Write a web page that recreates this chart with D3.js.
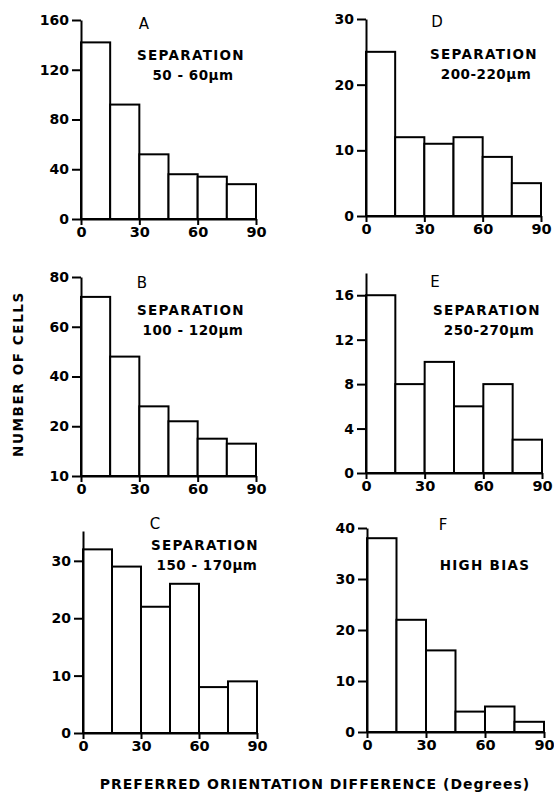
<!DOCTYPE html>
<html>
<head>
<meta charset="utf-8">
<script src="https://cdn.jsdelivr.net/npm/d3@7"></script>
<style>
body{margin:0;background:#fff;}
svg{display:block;}
.axis path,.axis line{stroke:#000;stroke-width:2;}
.axis text{font-family:"DejaVu Sans",sans-serif;font-weight:bold;font-size:14px;fill:#000;}
.bar{fill:#fff;stroke:#000;stroke-width:2;}
.lbl{font-family:"DejaVu Sans",sans-serif;fill:#000;}
</style>
</head>
<body>
<div id="plot"></div>
<script>
//orientation difference bins (degrees), each 15 wide
var BIN_STARTS = [0,15,30,45,60,75],
	BIN_WIDTH = 15,
	X_TICKS = [0,30,60,90];

//counts
var countsA = [142,92,52,36,34,28],
	countsB = [72,48,28,22,15,13],
	countsC = [32,29,22,26,8,9],
	countsD = [25,12,11,12,9,5],
	countsE = [16,8,10,6,8,3],
	countsF = [38,22,16,4,5,2];

var ticksA = [0,40,80,120,160],
	ticksB = [0,20,40,60,80],
	ticksC = [0,10,20,30],
	ticksD = [0,10,20,30],
	ticksE = [0,4,8,12,16],
	ticksF = [0,10,20,30,40];

//panel B's bottom tick is printed as "10" in the original
var tickLabelsB = ['10','20','40','60','80'];

var panelNames = ['A','B','C','D','E','F'],
	captionLine1 = ['SEPARATION','SEPARATION','SEPARATION','SEPARATION','SEPARATION','HIGH BIAS'],
	captionLine2 = ['50 - 60\u03bcm','100 - 120\u03bcm','150 - 170\u03bcm','200-220\u03bcm','250-270\u03bcm',''];

var W = 554, H = 799;
var svg = d3.select('#plot').append('svg')
	.attr('width',W).attr('height',H);

//layout of each panel: plot box in pixels, top of y domain
var panels = [
	{name:'A', counts:countsA, ticks:ticksA, yMax:160, l:81, r:256, b:219, t:20,
		nameXY:[144,24], capXY:[191,55]},
	{name:'B', counts:countsB, ticks:ticksB, labels:tickLabelsB, yMax:80, l:81, r:256, b:476, t:277,
		nameXY:[142,283], capXY:[191,310]},
	{name:'C', counts:countsC, ticks:ticksC, yMax:35.2, l:83, r:257, b:733, t:531,
		nameXY:[155,524], capXY:[205,545]},
	{name:'D', counts:countsD, ticks:ticksD, yMax:30, l:366, r:541, b:216, t:19,
		nameXY:[437,22], capXY:[484,54]},
	{name:'E', counts:countsE, ticks:ticksE, yMax:18, l:366, r:542, b:473, t:273,
		nameXY:[435,282], capXY:[487,310]},
	{name:'F', counts:countsF, ticks:ticksF, yMax:40, l:367, r:544, b:732, t:528,
		nameXY:[443,525], capXY:[485,565]}
];

panels.forEach(function(p,i){
	drawPanel(p,i);
});

function drawPanel(p,i){
	var scaleX = d3.scaleLinear().domain([0,90]).range([p.l,p.r]),
		scaleY = d3.scaleLinear().domain([0,p.yMax]).range([p.b,p.t]);

	var g = svg.append('g').attr('class','panel panel-'+p.name);

	var data = BIN_STARTS.map(function(x0,j){ return {x0:x0, x1:x0+BIN_WIDTH, n:p.counts[j]}; });

	g.selectAll('.bar')
		.data(data)
		.enter()
		.append('rect').attr('class','bar')
		.attr('x',function(d){return scaleX(d.x0)})
		.attr('width',function(d){return scaleX(d.x1)-scaleX(d.x0)})
		.attr('y',function(d){return scaleY(d.n)})
		.attr('height',function(d){return scaleY(0)-scaleY(d.n)});

	var yAxis = d3.axisLeft(scaleY)
		.tickValues(p.ticks)
		.tickSize(9)
		.tickSizeOuter(0)
		.tickPadding(3)
		.tickFormat(function(v,k){ return p.labels ? p.labels[k] : v; });
	g.append('g').attr('class','axis axis-y')
		.attr('transform','translate('+p.l+',0)')
		.call(yAxis);

	var xAxis = d3.axisBottom(scaleX)
		.tickValues(X_TICKS)
		.tickSize(6)
		.tickSizeOuter(0)
		.tickPadding(2);
	g.append('g').attr('class','axis axis-x')
		.attr('transform','translate(0,'+p.b+')')
		.call(xAxis)
		.selectAll('text').style('font-size','14.5px');

	//panel letter and caption
	g.append('text').attr('class','lbl')
		.attr('x',p.nameXY[0]).attr('y',p.nameXY[1])
		.attr('text-anchor','middle').attr('dy','0.36em')
		.style('font-size','15px')
		.text(panelNames[i]);
	g.append('text').attr('class','lbl')
		.attr('x',p.capXY[0]).attr('y',p.capXY[1])
		.attr('text-anchor','middle').attr('dy','0.36em')
		.style('font-size','13.5px').style('font-weight','bold').style('letter-spacing','1.3px')
		.text(captionLine1[i]);
	if(captionLine2[i]){
		g.append('text').attr('class','lbl')
			.attr('x',p.capXY[0]+2).attr('y',p.capXY[1]+20)
			.attr('text-anchor','middle').attr('dy','0.36em')
			.style('font-size','13.5px').style('font-weight','bold').style('letter-spacing','0.5px')
			.text(captionLine2[i]);
	}
}

//shared axis titles
svg.append('text').attr('class','lbl')
	.attr('transform','translate(18,374) rotate(-90)')
	.attr('text-anchor','middle').attr('dy','0.36em')
	.style('font-size','13.5px').style('font-weight','bold').style('letter-spacing','1.6px')
	.text('NUMBER OF CELLS');

svg.append('text').attr('class','lbl')
	.attr('x',315).attr('y',784)
	.attr('text-anchor','middle').attr('dy','0.36em')
	.style('font-size','14px').style('font-weight','bold').style('letter-spacing','1px')
	.text('PREFERRED ORIENTATION DIFFERENCE (Degrees)');
</script>
</body>
</html>
